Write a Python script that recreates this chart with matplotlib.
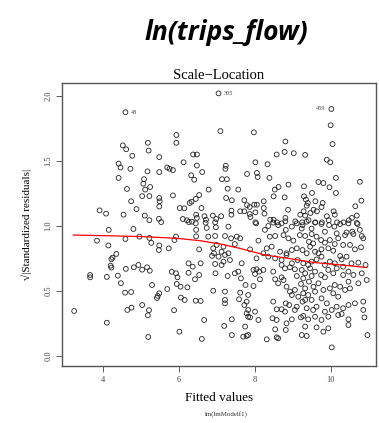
import matplotlib
matplotlib.use("Agg")
import matplotlib.pyplot as plt

# fitted values / sqrt(|standardized residuals|)
fitted = [
    4.59, 4.52, 4.61, 4.77, 5.18, 5.20, 5.48, 4.41, 4.46, 4.72, 5.17, 5.48, 5.69, 4.41, 5.08, 5.06,
    4.63, 5.24, 5.11, 5.03, 5.22, 5.48, 5.49, 4.74, 5.48, 4.88, 3.91, 4.08, 4.54, 5.10, 5.22, 5.47, 5.53,
    4.15, 4.80, 3.84, 4.59, 4.96, 5.22, 5.27, 4.14, 5.48, 5.47, 4.35, 4.25, 4.22, 4.20, 4.22, 4.60,
    4.81, 4.93, 5.03, 5.16, 5.23, 3.66, 3.66, 4.10, 4.39, 4.47, 5.29, 5.69, 4.58, 4.74, 5.48, 5.44,
    5.42, 5.03, 4.75, 4.64, 5.21, 5.18, 3.24, 4.10, 5.19,
    5.92, 5.88, 5.73, 6.45, 6.45, 6.26, 6.44, 6.70, 6.73, 6.77, 6.97, 6.53, 6.90, 6.92, 6.87, 6.25,
    6.36, 6.57, 6.25, 6.53, 6.42, 5.81, 5.92, 5.96, 5.94, 6.04, 6.22, 6.96, 6.90, 6.05, 6.15, 6.44,
    6.57, 5.87, 6.66, 6.01, 6.60,
    7.04, 7.09, 7.97, 5.93, 5.93, 6.37, 6.47, 6.12, 6.47, 5.75, 5.84, 6.61, 6.32, 6.40, 7.23, 7.22,
    8.01, 8.33, 7.79, 8.05, 8.07, 8.38, 7.13, 7.26, 6.78, 7.28, 7.56, 5.84, 6.53, 6.44, 6.33, 6.28,
    7.24, 7.39, 7.72, 7.98, 8.05, 8.23, 6.02, 6.14, 6.59, 7.79, 7.86, 7.38, 7.38, 7.61, 7.72, 7.86,
    7.88, 8.01, 8.23, 8.25, 6.45, 6.47, 6.67, 6.71, 6.89, 6.98, 6.95, 7.11, 6.10, 6.21, 6.34, 8.40, 8.01,
    10.01, 9.99, 10.04, 8.80, 8.57, 8.78, 9.02, 9.32, 9.89, 9.98, 10.13, 10.76, 9.67, 9.80, 9.96, 8.88,
    8.62, 8.52, 9.29, 9.50, 10.13, 8.49, 8.78, 9.29, 9.34, 9.39, 9.36, 9.59, 9.78, 9.75, 10.80, 10.64,
    8.87, 9.19, 9.28, 9.32, 9.46, 9.54, 9.63, 10.07, 10.10, 9.89, 10.68, 10.55, 10.47, 8.80, 8.80,
    8.49, 8.58, 9.06, 9.24, 9.41, 9.59, 9.76, 9.94, 10.16, 10.33, 10.68,
    7.30, 8.03, 8.35, 8.48, 8.61, 8.81, 9.10, 9.25, 9.36, 9.58, 9.75, 9.95, 10.09, 10.24, 10.46, 10.70,
    10.76, 10.56, 10.41, 10.15, 9.84, 9.49, 9.23, 8.97, 8.70, 8.26,
    6.95, 7.21, 7.37, 7.52, 7.61, 8.09, 8.39, 8.53, 8.75, 8.88, 9.01, 9.18, 9.32, 9.49, 9.62, 9.74,
    9.97, 10.10, 10.19, 10.37, 10.59, 10.81, 10.85, 9.42, 9.53, 9.84,
    6.99, 7.17, 7.30, 7.47, 7.87, 8.31, 8.44, 8.66, 8.83, 8.97, 9.10, 9.25, 9.45, 9.58, 9.75, 9.93,
    10.06, 10.32, 10.50, 10.63, 10.79, 7.12, 7.21, 8.22, 9.36, 9.67,
    7.04, 7.17, 7.34, 7.65, 8.04, 8.35, 8.53, 8.70, 8.83, 8.97, 9.12, 9.27, 9.49, 9.62, 9.75, 9.97,
    10.10, 10.24, 10.28, 10.41, 10.54, 10.72, 10.91, 8.70, 9.40, 9.84, 7.12, 6.95,
    7.47, 7.56, 7.28, 7.63, 7.96, 8.04, 8.11, 8.22, 8.00, 8.48, 8.79, 8.92, 9.05, 9.23, 9.32, 9.45,
    9.58, 9.74, 9.93, 10.06, 10.15, 10.32, 10.46, 10.59, 10.81, 10.94, 8.53, 8.70, 9.10, 9.27, 9.49,
    9.84, 10.32, 10.72, 8.13,
    7.75, 7.96, 8.61, 8.75, 8.83, 8.92, 9.05, 9.21, 9.32, 9.42, 9.54, 9.67, 9.80, 9.97, 10.10, 10.24,
    10.37, 10.50, 10.46, 9.14, 9.40, 9.58, 10.06, 10.19, 7.21, 7.61, 7.82, 9.27, 8.97,
    7.21, 7.21, 7.58, 7.78, 7.72, 7.82, 8.48, 8.57, 8.70, 8.81, 8.90, 9.10, 9.25, 9.36, 9.49, 9.62,
    9.75, 9.89, 10.02, 10.32, 10.46, 10.63, 10.85, 10.85, 8.79, 9.05, 9.32, 9.53, 9.84, 10.15, 8.00, 7.78,
    7.82, 7.87, 8.46, 8.57, 8.97, 9.21, 9.27, 9.40, 9.58, 9.75, 9.93, 10.19, 10.28, 10.46, 10.88, 8.09,
    7.39, 8.83,
    7.19, 7.74, 8.53, 8.81, 9.32, 9.62, 9.80, 9.93, 10.46, 7.39, 7.69, 7.78, 7.82, 8.31, 8.57, 8.61,
    9.23, 9.36, 10.96, 10.02,
]
sqrt_std_resid = [
    1.875, 1.62, 1.59, 1.54, 1.64, 1.58, 1.53, 1.48, 1.45, 1.44, 1.42, 1.415, 1.45, 1.37, 1.36, 1.325,
    1.285, 1.30, 1.28, 1.23, 1.23, 1.215, 1.19, 1.19, 1.15, 1.13, 1.12, 1.095, 1.087, 1.08, 1.045, 1.055, 1.03,
    0.97, 0.977, 0.887, 0.90, 0.918, 0.908, 0.87, 0.85, 0.85, 0.815, 0.785, 0.756, 0.744, 0.695, 0.68, 0.67,
    0.682, 0.70, 0.664, 0.682, 0.656, 0.623, 0.605, 0.608, 0.618, 0.56, 0.546, 0.515, 0.487, 0.492, 0.482, 0.462,
    0.446, 0.392, 0.372, 0.354, 0.352, 0.313, 0.346, 0.256, 0.146,
    0.918, 0.892, 0.828, 0.97, 0.92, 1.03, 1.02, 1.025, 0.985, 0.918, 0.99, 0.82, 0.828, 0.79, 0.77, 0.713,
    0.687, 0.713, 0.64, 0.623, 0.59, 0.648, 0.636, 0.605, 0.554, 0.533, 0.528, 0.636, 0.502, 0.449, 0.431, 0.425,
    0.423, 0.352, 0.277, 0.187, 0.131,
    2.02, 1.73, 1.72, 1.70, 1.64, 1.55, 1.55, 1.49, 1.465, 1.44, 1.43, 1.415, 1.39, 1.356, 1.463, 1.44,
    1.49, 1.475, 1.40, 1.408, 1.377, 1.37, 1.36, 1.36, 1.28, 1.287, 1.28, 1.235, 1.238, 1.208, 1.187, 1.177,
    1.215, 1.198, 1.198, 1.164, 1.164, 1.19, 1.138, 1.136, 1.138, 1.16, 1.146, 1.118, 1.087, 1.113, 1.113, 1.092,
    1.069, 1.105, 1.138, 1.095, 1.087, 1.062, 1.075, 1.048, 1.08, 1.054, 1.028, 1.075, 1.054, 1.044, 1.033, 1.048, 1.028,
    1.90, 1.775, 1.63, 1.65, 1.55, 1.57, 1.56, 1.547, 1.51, 1.49, 1.37, 1.34, 1.338, 1.33, 1.298, 1.318,
    1.30, 1.28, 1.305, 1.254, 1.254, 1.228, 1.22, 1.228, 1.203, 1.177, 1.156, 1.19, 1.177, 1.146, 1.195, 1.152,
    1.125, 1.087, 1.113, 1.08, 1.10, 1.125, 1.113, 1.113, 1.087, 1.075, 1.08, 1.062, 1.044, 1.062, 1.036,
    1.048, 1.028, 1.036, 1.028, 1.044, 1.028, 1.028, 1.044, 1.028, 1.028, 1.023,
    0.995, 1.02, 1.00, 1.026, 1.007, 0.97, 1.02, 1.007, 1.033, 1.026, 1.015, 1.007, 0.995, 1.015, 1.02, 1.015,
    0.97, 0.956, 0.95, 0.943, 0.956, 0.98, 0.98, 0.995, 1.02, 0.97,
    0.923, 0.923, 0.905, 0.918, 0.905, 0.887, 0.918, 0.923, 0.93, 0.905, 0.887, 0.93, 0.923, 0.938, 0.918, 0.892,
    0.892, 0.861, 0.905, 0.93, 0.938, 0.923, 0.905, 0.879, 0.866, 0.872,
    0.854, 0.841, 0.79, 0.861, 0.82, 0.828, 0.841, 0.802, 0.79, 0.815, 0.828, 0.815, 0.841, 0.802, 0.82, 0.828,
    0.81, 0.854, 0.854, 0.82, 0.836, 0.802, 0.777, 0.79, 0.79, 0.79,
    0.764, 0.726, 0.738, 0.713, 0.751, 0.764, 0.751, 0.738, 0.777, 0.713, 0.738, 0.713, 0.726, 0.743, 0.764, 0.726,
    0.713, 0.769, 0.743, 0.764, 0.713, 0.718, 0.70, 0.70, 0.70, 0.70, 0.70, 0.708,
    0.636, 0.649, 0.615, 0.597, 0.662, 0.667, 0.649, 0.662, 0.631, 0.649, 0.674, 0.682, 0.667, 0.662, 0.636, 0.674,
    0.649, 0.623, 0.662, 0.636, 0.674, 0.687, 0.649, 0.623, 0.636, 0.584, 0.59, 0.605, 0.615, 0.597, 0.615,
    0.605, 0.623, 0.559, 0.59,
    0.546, 0.538, 0.559, 0.584, 0.533, 0.495, 0.508, 0.554, 0.52, 0.572, 0.533, 0.559, 0.508, 0.52, 0.546, 0.533,
    0.508, 0.52, 0.572, 0.456, 0.469, 0.495, 0.482, 0.456, 0.495, 0.487, 0.469, 0.482, 0.469,
    0.431, 0.405, 0.436, 0.418, 0.392, 0.354, 0.418, 0.359, 0.359, 0.405, 0.392, 0.379, 0.418, 0.367, 0.431, 0.379,
    0.443, 0.405, 0.354, 0.367, 0.392, 0.405, 0.418, 0.354, 0.341, 0.354, 0.431, 0.354, 0.341, 0.379, 0.341, 0.328,
    0.302, 0.297, 0.29, 0.277, 0.282, 0.297, 0.308, 0.282, 0.302, 0.277, 0.302, 0.315, 0.323, 0.282, 0.297, 0.277,
    0.282, 0.251,
    0.231, 0.226, 0.205, 0.20, 0.226, 0.22, 0.187, 0.213, 0.238, 0.161, 0.149, 0.154, 0.161, 0.128, 0.143, 0.136,
    0.161, 0.154, 0.161, 0.066,
]

# red smoother
smooth_x = [3.22, 4.14, 5.06, 5.94, 6.55, 7.08, 7.6, 8.26, 8.9, 9.58, 10.46, 10.94]
smooth_y = [0.93, 0.925, 0.918, 0.905, 0.887, 0.862, 0.828, 0.777, 0.75, 0.718, 0.695, 0.68]

# labelled extreme points
lab_x = [4.59, 7.04, 10.01]
lab_y = [1.875, 2.02, 1.90]
lab_txt = ["48", "305", "459"]
lab_side = ["right", "right", "left"]

serif = "Liberation Serif"

fig = plt.figure(figsize=(3.79, 4.23), dpi=100)
fig.text(0.597, 0.922, "ln(trips_flow)", ha="center", va="center",
         fontsize=19, fontweight="bold", fontstyle="italic", family=["Open Sans", "DejaVu Sans"])

ax = fig.add_axes([0.1636, 0.1348, 0.828, 0.669])
ax.scatter(fitted, sqrt_std_resid, s=12, facecolors="none", edgecolors="#222222", linewidths=0.6)
ax.plot(smooth_x, smooth_y, color="red", lw=0.9)

for x, y, t, side in zip(lab_x, lab_y, lab_txt, lab_side):
    dx = 4 if side == "right" else -4
    ax.annotate(t, (x, y), xytext=(dx, 0), textcoords="offset points",
                ha="left" if side == "right" else "right", va="center",
                fontsize=4.5, color="#444444", family=serif)

ax.set_xlim(2.92, 11.18)
ax.set_ylim(-0.077, 2.1)
ax.set_xticks([4, 6, 8, 10])
ax.set_yticks([0.0, 0.5, 1.0, 1.5, 2.0])
ax.set_yticklabels(["0.0", "0.5", "1.0", "1.5", "2.0"], rotation=90, va="center")
ax.tick_params(direction="out", length=4, width=0.6, color="#444444",
               labelsize=6, labelcolor="#444444", pad=3)
for lbl in ax.get_xticklabels() + ax.get_yticklabels():
    lbl.set_family(serif)
for sp in ax.spines.values():
    sp.set_linewidth(1.0)
    sp.set_color("#555555")

ax.set_title("Scale\u2212Location", fontsize=10.5, family=serif, pad=3)
ax.set_ylabel("\u221a|Standardized residuals|", fontsize=8, family=serif, labelpad=9)
ax.set_xlabel("Fitted values", fontsize=9.5, family=serif, labelpad=6)
fig.text(0.598, 0.022, "lm(lmModelf1)", ha="center", va="center", fontsize=5, family=serif, color="#333333")

fig.savefig("out.png", dpi=100)
